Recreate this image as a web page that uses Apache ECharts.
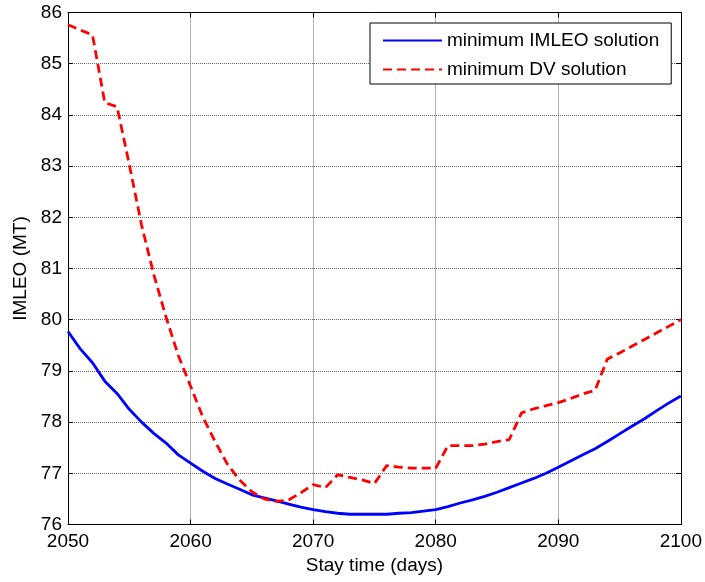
<!DOCTYPE html>
<html>
<head>
<meta charset="utf-8">
<script src="https://cdn.jsdelivr.net/npm/echarts@6/dist/echarts.min.js"></script>
<style>
html,body{margin:0;padding:0;background:#fff;}
#c{width:705px;height:582px;}
</style>
</head>
<body>
<div id="c"></div>
<script>
const years = [2050,2051,2052,2053,2054,2055,2056,2057,2058,2059,2060,2061,2062,2063,2064,2065,2066,2067,2068,2069,2070,2071,2072,2073,2074,2075,2076,2077,2078,2079,2080,2081,2082,2083,2084,2085,2086,2087,2088,2089,2090,2091,2092,2093,2094,2095,2096,2097,2098,2099,2100];
const minImleo = [79.77,79.43,79.16,78.80,78.56,78.25,78.00,77.78,77.59,77.36,77.20,77.04,76.90,76.79,76.69,76.58,76.52,76.46,76.40,76.34,76.29,76.25,76.22,76.20,76.20,76.20,76.20,76.22,76.23,76.26,76.29,76.35,76.42,76.48,76.55,76.63,76.72,76.81,76.90,77.00,77.12,77.24,77.36,77.48,77.62,77.77,77.92,78.06,78.22,78.37,78.51];
const minDv = [85.76,85.66,85.56,84.24,84.16,83.03,81.85,80.88,80.05,79.30,78.70,78.10,77.62,77.18,76.87,76.64,76.50,76.45,76.48,76.62,76.78,76.72,76.97,76.92,76.87,76.80,77.15,77.12,77.10,77.10,77.10,77.54,77.54,77.54,77.57,77.62,77.66,78.18,78.26,78.32,78.38,78.46,78.55,78.62,79.23,79.35,79.48,79.61,79.74,79.87,80.00];
const seriesNames = ['minimum IMLEO solution','minimum DV solution'];
const xTitle = 'Stay time (days)';
const yTitle = 'IMLEO (MT)';

const FONT = 'Liberation Sans, Arial, sans-serif';
const chart = echarts.init(document.getElementById('c'), null, {renderer:'canvas'});
const pair = (arr) => years.map((y,i) => [y, arr[i]]);
const axisCommon = {
  type:'value',
  axisLine:{show:true,onZero:false,lineStyle:{color:'#000',width:1}},
  axisTick:{show:true,inside:true,length:5,lineStyle:{color:'#000'}},
};
chart.setOption({
  animation:false,
  backgroundColor:'#fff',
  grid:{left:68,top:12.5,right:21,bottom:57.5,containLabel:false},
  legend:{
    orient:'vertical', left:370, top:23,
    padding:[8,12,5,12], itemGap:10, itemWidth:59, itemHeight:14,
    borderColor:'#000', borderWidth:1, backgroundColor:'#fff',
    itemStyle:{opacity:0},
    textStyle:{fontFamily:FONT,fontSize:19,color:'#000'},
    data:seriesNames
  },
  xAxis:[
    Object.assign({}, axisCommon, {
      position:'bottom', min:2050, max:2100, interval:10,
      name:xTitle, nameLocation:'middle', nameGap:32,
      nameTextStyle:{fontFamily:FONT,fontSize:19,color:'#000'},
      axisLabel:{fontFamily:FONT,fontSize:19,color:'#000',margin:8,formatter:(v)=>String(v)},
      splitLine:{show:true,lineStyle:{color:'#666',type:'dotted',width:1}}
    }),
    Object.assign({}, axisCommon, {
      position:'top', min:2050, max:2100, interval:10,
      axisLabel:{show:false}, splitLine:{show:false}
    })
  ],
  yAxis:[
    Object.assign({}, axisCommon, {
      position:'left', min:76, max:86, interval:1,
      name:yTitle, nameLocation:'middle', nameGap:38, nameRotate:90,
      nameTextStyle:{fontFamily:FONT,fontSize:19,color:'#000'},
      axisLabel:{fontFamily:FONT,fontSize:19,color:'#000',margin:6},
      splitLine:{show:true,lineStyle:{color:'#666',type:'dotted',width:1}}
    }),
    Object.assign({}, axisCommon, {
      position:'right', min:76, max:86, interval:1,
      axisLabel:{show:false}, splitLine:{show:false}
    })
  ],
  series:[
    {name:seriesNames[0], type:'line', data:pair(minImleo), xAxisIndex:0, yAxisIndex:0,
     showSymbol:false, symbol:'none', lineStyle:{color:'#0000ff',width:2.8,type:'solid'}, itemStyle:{color:'#0000ff'}},
    {name:seriesNames[1], type:'line', data:pair(minDv), xAxisIndex:0, yAxisIndex:0,
     showSymbol:false, symbol:'none', lineStyle:{color:'#ff0000',width:2.8,type:[9,5]}, itemStyle:{color:'#ff0000'}}
  ]
});
</script>
</body>
</html>
